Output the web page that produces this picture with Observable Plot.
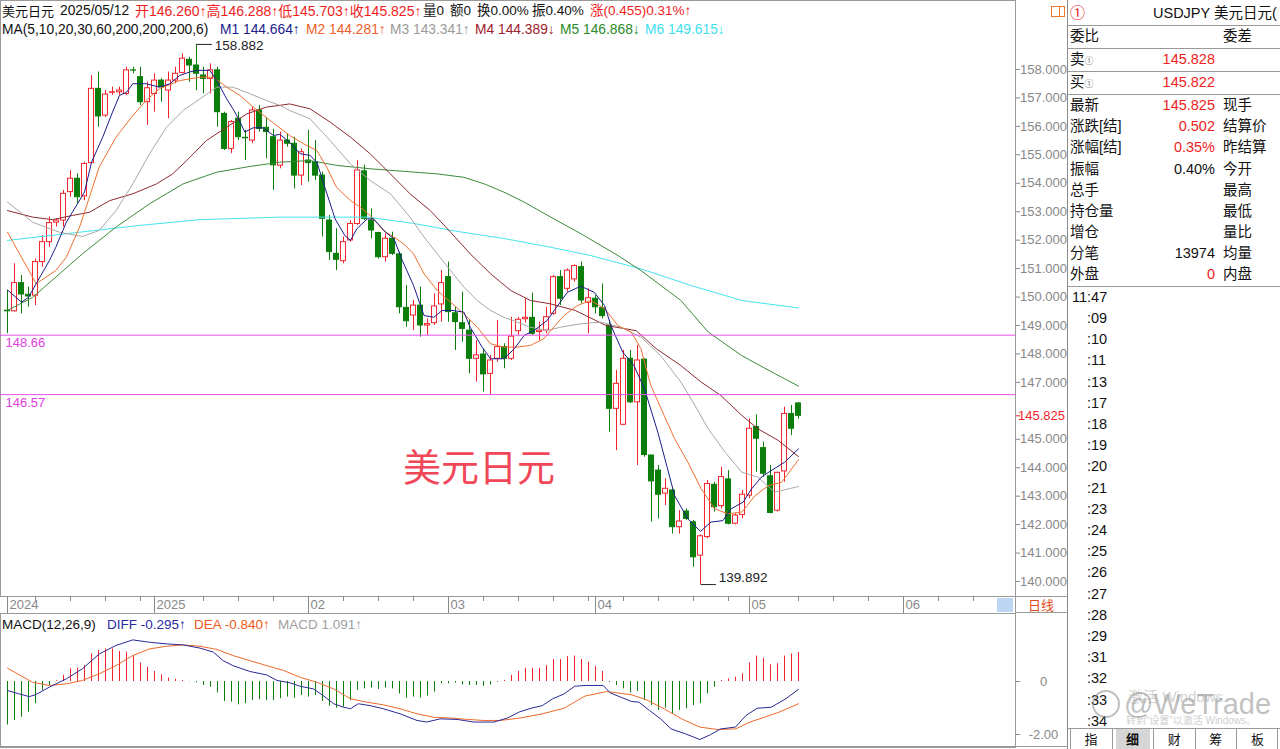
<!DOCTYPE html>
<html><head><meta charset="utf-8">
<script src="https://cdn.jsdelivr.net/npm/d3@7"></script>
<script src="https://cdn.jsdelivr.net/npm/@observablehq/plot@0.6"></script>
<style>
html,body{margin:0;padding:0;background:#fff;}
body{width:1280px;height:749px;position:relative;overflow:hidden;font-family:"Liberation Sans",Arial,"Noto Sans CJK SC",sans-serif;}
.t{position:absolute;white-space:nowrap;}
.ln{position:absolute;}
svg{display:block;}
</style></head><body>
<div id="main" style="position:absolute;left:0;top:0"></div>
<div id="xaxis" style="position:absolute;left:0;top:596px"></div>
<div id="macd" style="position:absolute;left:0;top:613px"></div>
<script>
// ---------- DATA ----------
const opens = [149.52,149.50,150.49,150.08,150.05,151.23,151.93,152.62,152.69,153.69,154.16,153.54,154.71,157.32,156.38,157.18,157.20,157.14,157.97,157.73,
156.85,157.14,157.61,157.26,157.61,157.88,158.34,158.14,157.79,157.67,157.97,156.44,155.21,156.27,155.60,155.50,156.56,155.95,155.62,154.62,
155.50,155.39,154.27,154.80,154.74,154.27,152.69,151.52,151.26,151.99,152.57,154.42,152.69,152.25,151.40,152.05,151.50,149.62,149.35,149.70,
149.00,149.08,149.74,150.70,149.43,149.08,148.82,147.83,147.98,147.30,147.83,148.24,147.83,148.80,149.22,149.27,148.77,148.82,149.41,150.70,
150.29,150.62,151.05,149.80,149.94,149.61,149.00,146.07,145.51,147.83,146.30,147.80,144.43,143.90,143.09,143.20,141.91,142.46,142.08,140.91,
141.56,143.40,142.65,143.59,142.03,142.34,143.02,145.43,144.69,143.70,142.49,143.87,145.89,146.260];
const highs = [150.23,151.17,150.76,150.35,151.34,152.16,152.81,152.75,153.75,154.45,154.33,154.74,157.79,157.91,157.26,157.38,157.38,158.08,158.08,158.08,
157.55,157.85,157.67,157.91,158.08,158.55,158.43,158.882,158.08,158.20,158.08,156.50,156.21,156.50,155.86,156.68,156.73,156.32,155.90,155.80,
155.74,155.62,155.21,155.86,155.50,154.39,152.87,152.40,152.11,152.69,154.80,154.63,153.10,152.28,152.22,152.28,151.58,150.41,149.88,150.35,
149.23,150.11,150.93,151.23,149.64,150.17,149.18,148.47,148.18,147.95,149.18,148.36,149.29,149.29,149.94,150.14,149.12,149.64,150.76,150.93,
150.99,151.13,151.23,150.29,150.05,150.46,149.18,147.42,148.12,148.12,148.30,147.83,144.43,144.08,143.61,143.26,142.49,142.55,142.14,141.64,
143.55,143.49,144.02,143.90,142.38,143.20,145.72,145.86,144.90,144.08,143.84,146.13,146.19,146.288];
const lows = [148.71,149.47,149.41,149.65,149.70,151.05,151.75,152.46,152.46,153.51,153.28,153.39,154.68,155.97,156.32,157.09,157.09,157.09,157.85,156.73,
156.03,156.50,156.85,156.27,157.50,157.85,157.55,157.26,157.14,157.14,155.97,155.15,155.04,155.50,154.80,155.39,155.80,154.86,153.75,154.51,
155.27,153.80,153.92,154.04,154.10,152.11,151.29,150.93,151.17,151.93,152.52,152.69,152.05,151.34,151.23,151.46,149.41,148.94,148.82,148.59,
148.65,149.00,149.12,149.12,148.12,148.41,147.30,147.01,146.66,146.54,147.71,147.48,147.77,148.65,149.08,148.65,148.47,148.71,149.35,149.70,
150.17,150.52,149.76,148.71,149.41,149.23,145.25,144.60,145.48,146.25,144.08,144.37,142.09,142.20,142.67,141.67,141.67,142.14,140.50,139.892,
141.50,142.44,142.55,141.99,141.99,142.20,142.91,143.84,143.67,142.38,142.44,143.49,145.13,145.703];
const closes = [149.50,150.49,150.09,150.02,151.23,151.93,152.60,152.69,153.63,154.16,153.51,154.68,157.32,156.35,157.12,157.20,157.26,157.97,157.96,156.85,
157.34,157.61,157.38,157.61,157.85,158.38,158.14,157.85,157.67,157.97,156.50,155.21,156.15,155.62,155.58,156.56,155.91,155.80,154.63,155.50,
155.39,154.27,155.09,154.71,154.27,152.75,151.58,151.31,151.93,152.57,154.45,152.75,152.34,151.40,152.05,151.52,149.64,149.15,149.70,149.00,
149.05,149.67,150.49,149.47,149.12,148.88,147.83,147.95,147.28,147.77,148.24,147.83,148.61,149.20,149.27,148.71,148.82,149.29,150.70,149.94,
150.93,151.09,149.88,149.96,149.64,149.33,146.07,146.95,147.83,146.30,147.77,144.45,143.52,143.05,143.26,141.91,142.11,142.20,140.85,141.59,
143.43,142.61,143.67,142.03,142.32,143.05,145.37,145.02,143.79,142.41,143.82,145.89,145.37,145.825];

// moving averages: [candle index, value]
const ma5 = [[1,150.25],[3,149.82],[4,149.99],[5.1,150.47],[7,151.29],[7.9,151.75],[9.4,152.63],[11,153.28],[12,153.69],[13,154.74],[14.6,155.62],[16,156.5],[17,157.09],[18,157.2],[18.9,157.5],[20.8,157.5],[22.7,157.38],[24.2,157.5],[25.6,157.79],[27,157.91],[28,157.97],[29.9,157.97],[30.9,157.61],[32.3,156.97],[33.2,156.62],[34,156.27],[34.9,155.8],[36.1,155.95],[37.5,155.95],[39,155.68],[39.9,155.72],[41.3,155.44],[42.8,155.04],[44.2,154.98],[45.2,154.74],[46.4,153.81],[47.8,152.75],[49.2,152.16],[50,151.99],[50.9,152.4],[52.4,152.75],[53.3,152.75],[55,152.28],[56.2,152.05],[57.4,151.29],[59,150.41],[60.5,149.35],[61.9,149.29],[63.1,149.53],[64.5,149.53],[66.2,149.47],[67.1,148.94],[68.8,148.24],[70,147.83],[71.9,147.83],[73.4,148.18],[74.8,148.65],[76.2,148.82],[78.1,149.18],[79.1,149.53],[81,150.17],[82.9,150.38],[84.8,150.17],[86.3,149.7],[87.2,149.0],[88.9,148.06],[90.5,147.59],[92,146.77],[93.9,145.25],[95.3,143.96],[96.3,143.02],[98.2,142.2],[100,141.76],[101.5,142.09],[103.2,142.14],[104.4,142.56],[106.1,142.79],[107.3,143.26],[108.7,143.67],[110.1,143.9],[112,144.19],[114,144.664]];
const ma10 = [[1,152.28],[5.1,150.47],[7.9,150.93],[9.4,151.4],[11.3,152.46],[12.7,153.51],[14.1,154.57],[16.5,155.62],[18.9,156.38],[20.8,156.91],[22.7,157.32],[25.6,157.61],[28.5,157.73],[30.4,157.73],[32.3,157.38],[34.2,157.09],[36.1,156.68],[38.5,156.21],[41.3,155.68],[43.3,155.39],[45.2,155.15],[46.6,154.57],[48,153.86],[50,153.39],[51.4,153.16],[52.8,152.87],[54.7,152.34],[56.2,152.11],[57.6,151.87],[59,151.52],[60.5,150.82],[62.4,150.23],[64.3,149.82],[66.2,149.41],[68.1,148.94],[70,148.36],[71.9,148.24],[73.8,148.24],[75.7,148.3],[77.6,148.53],[78.6,148.82],[80.5,149.35],[82.4,149.7],[84.3,149.88],[86.3,149.59],[88.2,149.0],[90.1,148.77],[91.5,148.18],[92.9,146.89],[94.8,145.84],[96.3,145.02],[98.2,144.19],[100.1,143.26],[102,142.56],[103.9,142.38],[105.9,142.44],[107.8,143.02],[109.7,143.37],[111.6,143.49],[114,144.281]];
const ma20 = [[1,153.34],[4.6,152.63],[8.4,152.28],[11.7,152.13],[14.1,152.34],[16.5,153.04],[18.9,153.98],[21.3,155.04],[23.7,155.97],[26.1,156.56],[28.5,156.97],[30.9,157.38],[33.2,157.38],[35.6,157.15],[38,156.91],[39.9,156.74],[41.3,156.56],[44.2,156.27],[47.1,155.5],[50,154.68],[52.8,154.1],[55.7,153.63],[58.5,152.81],[60.5,152.11],[62.4,151.52],[64.3,150.93],[66.2,150.35],[68.1,149.88],[70,149.53],[71.9,149.29],[73.8,149.12],[75.7,148.94],[78.1,148.82],[80,148.94],[82.9,149.06],[85.7,149.12],[88.6,148.94],[91.5,148.59],[94.3,147.94],[97.2,147.01],[99.2,146.19],[101.1,145.37],[103.5,144.55],[105.9,143.84],[108.2,143.67],[110.6,143.14],[114,143.341]];
const ma30 = [[1,153.04],[4.6,152.81],[7.4,152.72],[10.3,152.87],[12.7,152.98],[15.6,153.39],[18.9,153.63],[22.3,153.98],[24.6,154.33],[26.6,154.8],[29.4,155.5],[32.3,155.97],[35.2,156.44],[38,156.68],[39.9,156.74],[41.3,156.79],[44.2,156.62],[47.1,156.15],[50,155.62],[52.8,155.04],[55.7,154.33],[58.5,153.63],[61.4,153.04],[64.3,152.28],[67.1,151.52],[70,150.82],[72.9,150.23],[75.7,149.88],[78.6,149.76],[82.1,149.53],[86.5,149.0],[90.8,148.82],[93.7,148.18],[97.2,147.59],[100.1,147.01],[102.9,146.54],[105.9,145.84],[108.2,145.37],[111.1,144.96],[114,144.389]];
const ma60 = [[1,149.53],[4.6,149.99],[11.7,151.52],[16.5,152.46],[21.3,153.28],[26.1,153.98],[30.9,154.39],[35.6,154.59],[39.9,154.74],[44.2,154.8],[48,154.63],[52.8,154.51],[57.6,154.42],[62.4,154.33],[66.2,154.21],[69.1,153.98],[71.9,153.69],[74.8,153.34],[78.6,152.81],[82.9,152.23],[88.2,151.46],[91.5,150.93],[97.2,149.88],[101.1,148.77],[105.9,147.94],[110.6,147.31],[114,146.868]];
const ma200 = [[1,151.99],[11.3,152.28],[19.9,152.52],[28.5,152.72],[39.9,152.81],[52.4,152.81],[59,152.59],[65.2,152.31],[71.9,152.06],[78.6,151.75],[84.3,151.46],[91.5,150.99],[98.6,150.41],[105.9,149.88],[114,149.615]];

// MACD(12,26,9)
const macdHist = [-1.64,-1.47,-1.35,-1.16,-0.84,-0.34,-0.15,0.03,0.23,0.48,0.50,0.60,1.04,1.17,1.23,1.23,1.13,1.11,0.98,0.70,
0.54,0.38,0.25,0.13,0.08,0.04,-0.01,-0.05,-0.15,-0.21,-0.43,-0.75,-0.78,-0.88,-0.84,-0.72,-0.69,-0.72,-0.72,-0.65,
-0.59,-0.63,-0.53,-0.59,-0.53,-0.75,-0.93,-1.01,-0.97,-0.72,-0.34,-0.28,-0.25,-0.30,-0.25,-0.28,-0.47,-0.63,-0.59,-0.63,
-0.55,-0.40,-0.09,-0.09,-0.06,-0.13,-0.15,-0.15,-0.18,-0.13,-0.03,0.04,0.23,0.38,0.50,0.50,0.50,0.60,0.83,0.83,
0.94,0.96,0.83,0.73,0.57,0.38,-0.04,-0.15,-0.28,-0.43,-0.38,-0.72,-0.91,-1.09,-1.01,-1.22,-1.09,-1.03,-0.91,-0.84,
-0.47,-0.21,0.04,0.10,0.16,0.29,0.70,0.96,0.88,0.63,0.67,0.96,1.04,1.091];
const diffLine = [[1,-0.34],[2.7,-0.47],[4.1,-0.57],[5,-0.5],[7,-0.21],[9.4,0.1],[11.7,0.48],[14.1,1.04],[16.5,1.36],[18.9,1.57],[21.3,1.48],[23.7,1.42],[26.1,1.38],[28.5,1.26],[30.4,1.11],[31.8,0.79],[33.2,0.6],[35.6,0.38],[38,0.25],[39.5,0.04],[41.4,-0.05],[42.8,-0.18],[44.7,-0.28],[46.1,-0.53],[47.6,-0.84],[49,-0.97],[50,-1.03],[51.1,-0.84],[52.8,-0.91],[54.7,-1.03],[57.1,-1.22],[59.5,-1.47],[60.9,-1.53],[62.8,-1.41],[65.2,-1.43],[67.6,-1.53],[70.5,-1.53],[72.4,-1.38],[74.2,-1.14],[75.8,-1.01],[77.4,-0.91],[78.9,-0.65],[80.5,-0.47],[82,-0.18],[83.5,-0.15],[86.1,-0.15],[87.1,-0.43],[88.6,-0.59],[90.1,-0.75],[91.2,-0.78],[92.7,-1.09],[94.3,-1.41],[95.8,-1.79],[97.8,-1.97],[99.9,-2.19],[101.4,-2.01],[102.9,-1.79],[105,-1.72],[106.5,-1.28],[108.1,-1.01],[110.1,-0.97],[112.2,-0.65],[114,-0.295]];
const deaLine = [[1,0.5],[2.7,0.25],[4.6,-0.03],[7,-0.15],[9.4,-0.09],[11.7,0.04],[14.1,0.29],[16.5,0.6],[18.9,0.98],[21.3,1.23],[23.7,1.33],[26.1,1.38],[28.5,1.33],[30.9,1.21],[33.2,0.98],[35.6,0.79],[38,0.6],[40.4,0.42],[42.8,0.16],[45.2,-0.03],[47.6,-0.28],[50,-0.65],[52.3,-0.78],[54.7,-0.88],[57.1,-1.03],[59.5,-1.22],[61.9,-1.35],[64.3,-1.38],[66.7,-1.43],[69,-1.47],[71.4,-1.47],[74.2,-1.38],[77.4,-1.22],[80.5,-1.01],[83.5,-0.55],[86.6,-0.38],[88.1,-0.43],[90.1,-0.5],[92.2,-0.68],[94.8,-1.03],[97.3,-1.41],[99.9,-1.72],[102.4,-1.81],[105,-1.79],[107.1,-1.53],[109.1,-1.35],[111.2,-1.16],[114,-0.84]];

// axis ticks and labels
const yTicks = [140,141,142,143,144,145,147,148,149,150,151,152,153,154,155,156,157,158];
const macdTicks = [0,-2];
const levelValues = [148.66, 146.57];
const monthTickIdx = [1,22,44,64,85,107,129];
const monthLabels = ["2024","2025","02","03","04","05","06"];
const weekTickIdx = [5,10,15,20,29,34,39,49,54,59,69,74,79,84,89,94,99,104,114,119,124,134,139];

// header / info texts  [text, colour, left, font size]
const headerLine1 = [["美元日元","#111",2,13],["2025/05/12","#111",60,13.8],["开146.260↑高146.288↑低145.703↑收145.825↑","#f01c1c",135,14],["量0","#111",423,13.5],["额0","#111",450,13.5],["换0.00%","#111",477,13.5],["振0.40%","#111",532,13.5],["涨(0.455)0.31%↑","#f01c1c",590,13.5]];
const headerLine2 = [["MA(5,10,20,30,60,200,200,200,6)","#111",2,13.8],["M1 144.664↑","#1c1c8c",220,13.8],["M2 144.281↑","#f0602a",306,13.8],["M3 143.341↑","#9a9a9a",390,13.8],["M4 144.389↓","#a0202a",475,13.8],["M5 146.868↓","#2a8a2a",560,13.8],["M6 149.615↓","#3ee0ee",645,13.8]];
const macdLabels = [["MACD(12,26,9)","#111",2],["DIFF -0.295↑","#2a2aa0",107],["DEA -0.840↑","#f05a20",194],["MACD 1.091↑","#a0a0a0",278]];
const quoteRows = [["最新","145.825","现手","#f01c1c"],["涨跌[结]","0.502","结算价","#f01c1c"],["涨幅[结]","0.35%","昨结算","#f01c1c"],["振幅","0.40%","今开","#111"],["总手","","最高","#111"],["持仓量","","最低","#111"],["增仓","","量比","#111"],["分笔","13974","均量","#111"],["外盘","0","内盘","#f01c1c"]];
const tickTimes = ["11:47",":09",":10",":11",":13",":17",":18",":19",":20",":21",":23",":24",":25",":26",":27",":28",":29",":31",":32",":33",":34"];
const tabs = ["指","细","财","筹","板"];

// ---------- CHART ----------
const RED = "#f2232b", GREEN = "#0a7d0a", AX = "#888";
const FONT = '"Liberation Sans",Arial,"Noto Sans CJK SC",sans-serif';
const candles = opens.map((o,k)=>({i:k+1, open:o, high:highs[k], low:lows[k], close:closes[k]}));
const up = d => d.close >= d.open;
const xScale = {type:"linear", domain:[1,114], range:[7,798], axis:null};
const hiIdx = d3.maxIndex(highs), loIdx = d3.minIndex(lows);
const hiPt = [{i:hiIdx+1, v:highs[hiIdx]}], loPt = [{i:loIdx+1, v:lows[loIdx]}];
const lastPrice = closes[closes.length-1];
const maStyles = [[ma200,"#44e4ee"],[ma60,"#3c8a3c"],[ma30,"#8e2a30"],[ma20,"#a8a8a8"],[ma10,"#ee7030"],[ma5,"#1c1c8c"]];
const baseStyle = {fontFamily:FONT, fontSize:"13px", background:"transparent", overflow:"visible"};

const main = Plot.plot({
  width:1068, height:596, marginTop:0, marginLeft:0, marginBottom:0, marginRight:53,
  x: xScale,
  y: {domain:[140,158], range:[581,69], axis:null},
  style: baseStyle,
  marks: [
    Plot.frame({stroke:"#9a9a9a"}),
    Plot.ruleX(candles, {x:"i", y1:"low", y2:"high", stroke:d=>up(d)?RED:GREEN}),
    Plot.rect(candles, {x1:d=>d.i-0.36, x2:d=>d.i+0.36, y1:"open", y2:"close", fill:d=>up(d)?"#fff":GREEN, stroke:d=>up(d)?RED:GREEN}),
    ...maStyles.map(([arr,c]) => Plot.line(arr, {x:d=>d[0], y:d=>d[1], stroke:c, strokeWidth:1})),
    Plot.ruleY(levelValues, {stroke:"#e650e6", strokeWidth:1}),
    Plot.text(levelValues, {y:d=>d, text:d=>d.toFixed(2), frameAnchor:"left", textAnchor:"start", dx:5, dy:8, fill:"#e040e0", fontSize:13}),
    Plot.link(hiPt, {x1:"i", x2:d=>d.i+2.2, y1:"v", y2:"v", stroke:"#222"}),
    Plot.text(hiPt, {x:d=>d.i+2.6, y:"v", text:d=>d.v.toFixed(3), textAnchor:"start", dy:1, fill:"#222", fontSize:13.5}),
    Plot.link(loPt, {x1:"i", x2:d=>d.i+2.2, y1:"v", y2:"v", stroke:"#222"}),
    Plot.text(loPt, {x:d=>d.i+2.6, y:"v", text:d=>d.v.toFixed(3), textAnchor:"start", dy:-7, fill:"#222", fontSize:13.5}),
    Plot.axisY({anchor:"right", ticks:yTicks, tickFormat:d=>d.toFixed(3), tickSize:4, tickPadding:24, textAnchor:"middle", fill:AX, stroke:AX, label:null, fontSize:13}),
    Plot.axisY({anchor:"right", ticks:[lastPrice], tickFormat:d=>d.toFixed(3), tickSize:4, tickPadding:22, textAnchor:"middle", fill:RED, stroke:RED, label:null, fontSize:13})
  ]
});
document.getElementById("main").appendChild(main);

const xaxis = Plot.plot({
  width:1015, height:17, margin:0,
  x: xScale,
  style: baseStyle,
  marks: [
    Plot.ruleX(weekTickIdx, {x:d=>d, insetBottom:12, stroke:AX}),
    Plot.ruleX(monthTickIdx, {x:d=>d, stroke:AX}),
    Plot.text(monthTickIdx, {x:d=>d, text:(d,k)=>monthLabels[k], textAnchor:"start", dx:2, fill:AX, fontSize:13})
  ]
});
document.getElementById("xaxis").appendChild(xaxis);

const macdRows = macdHist.map((m,k)=>({i:k+1, m}));
const macd = Plot.plot({
  width:1068, height:134, marginTop:0, marginLeft:0, marginBottom:0, marginRight:53,
  x: xScale,
  y: {domain:[-2,0], range:[121,68], axis:null},
  style: baseStyle,
  marks: [
    Plot.frame({stroke:"#9a9a9a"}),
    Plot.ruleX(macdRows, {x:"i", y1:0, y2:"m", stroke:d=>d.m>=0?RED:GREEN}),
    Plot.line(deaLine, {x:d=>d[0], y:d=>d[1], stroke:"#ee6a2a", strokeWidth:1}),
    Plot.line(diffLine, {x:d=>d[0], y:d=>d[1], stroke:"#2a2a96", strokeWidth:1}),
    Plot.axisY({anchor:"right", ticks:macdTicks, tickFormat:d=>d===0?"0":d.toFixed(2), tickSize:4, tickPadding:24, textAnchor:"middle", fill:AX, stroke:AX, label:null, fontSize:13})
  ]
});
document.getElementById("macd").appendChild(macd);

// ---------- HTML overlays ----------
function T(str, x, cy, o={}) {
  const el = document.createElement("div"); el.className = "t"; el.textContent = str;
  const fs = o.size || 14; el.style.fontSize = fs+"px"; el.style.lineHeight = (fs+4)+"px";
  el.style.top = (cy-(fs+4)/2)+"px";
  if (o.anchor === "end") el.style.right = (1280-x)+"px";
  else if (o.anchor === "middle") { el.style.left = x+"px"; el.style.transform = "translateX(-50%)"; }
  else el.style.left = x+"px";
  el.style.color = o.color || "#111";
  if (o.weight) el.style.fontWeight = o.weight;
  document.body.appendChild(el); return el;
}
function L(x, y, w, h, c) {
  const el = document.createElement("div"); el.className = "ln";
  Object.assign(el.style, {left:x+"px", top:y+"px", width:w+"px", height:h+"px", background:c||"#9a9a9a"});
  document.body.appendChild(el); return el;
}
headerLine1.forEach(([s,c,x,fs]) => T(s, x, 11, {size:fs, color:c}));
headerLine2.forEach(([s,c,x,fs]) => T(s, x, 30, {size:fs, color:c}));
macdLabels.forEach(([s,c,x]) => T(s, x, 625, {size:13.5, color:c}));
T("美元日元", 403, 468, {size:38, color:"#f04858"});

// icon top right of chart
const ic = document.createElement("div");
Object.assign(ic.style, {position:"absolute", left:"1051px", top:"6px", width:"12px", height:"9px", border:"1px solid #e8782a"});
const ic2 = document.createElement("div");
Object.assign(ic2.style, {position:"absolute", left:"7px", top:"0px", width:"1px", height:"9px", background:"#e8782a"});
ic.appendChild(ic2); document.body.appendChild(ic);

// x-axis strip extras
L(1015, 596, 1, 17); L(1015, 596, 53, 1); L(1015, 612, 53, 1);
const sq = document.createElement("div");
Object.assign(sq.style, {position:"absolute", left:"997px", top:"598px", width:"16px", height:"14px", background:"#bcd6f2"});
document.body.appendChild(sq);
T("日线", 1041, 605, {size:13, color:"#e04a18", anchor:"middle"});

// right panel
L(1067, 0, 1, 749, "#8a8a8a");
[25, 48, 71, 94, 286].forEach(y => L(1068, y, 212, 1, "#9a9a9a"));
L(0, 746, 1068, 1, "#9a9a9a");
T("①", 1070, 12, {size:15, color:"#e8101a"});
T("USDJPY 美元日元(", 1153, 13, {size:14.5, color:"#111"});
T("委比", 1070, 36, {size:14.5}); T("委差", 1223, 36, {size:14.5});
const sell = T("卖", 1070, 59, {size:14.5}); const s1 = document.createElement("span"); s1.textContent="①"; s1.style.fontSize="9px"; s1.style.color="#777"; sell.appendChild(s1);
const buy = T("买", 1070, 82, {size:14.5}); const b1 = document.createElement("span"); b1.textContent="①"; b1.style.fontSize="9px"; b1.style.color="#777"; buy.appendChild(b1);
T("145.828", 1215, 59, {size:14.5, color:"#f01c1c", anchor:"end"});
T("145.822", 1215, 82, {size:14.5, color:"#f01c1c", anchor:"end"});
quoteRows.forEach(([a,v,b,c],k) => {
  const cy = 105.5 + 21.1*k;
  T(a, 1070, cy, {size:14.5});
  if (v) T(v, 1215, cy, {size:14.5, color:c, anchor:"end"});
  T(b, 1223, cy, {size:14.5});
});
tickTimes.forEach((s,k) => {
  if (k === 0) T(s, 1072, 297, {size:14.5});
  else T(s, 1087, 297 + 21.2*k, {size:14.5});
});
// tabs
L(1068, 728, 212, 1, "#9a9a9a");
tabs.forEach((s,k) => {
  const x0 = 1070 + 41.6*k;
  if (k === 1) { const bg = document.createElement("div"); Object.assign(bg.style,{position:"absolute",left:(x0+4)+"px",top:"729px",width:"34px",height:"20px",background:"#d6d6d6"}); document.body.appendChild(bg); }
  L(x0, 729, 1, 20, "#9a9a9a");
  T(s, x0+21, 739, {size:13, anchor:"middle", weight:k===1?"bold":"normal"});
});
L(1277, 729, 1, 20, "#9a9a9a");
// watermark overlays
const logo = document.createElement("div");
Object.assign(logo.style,{position:"absolute",left:"1092px",top:"690px",width:"24px",height:"24px",borderRadius:"50%",border:"2px solid rgba(140,140,140,0.55)"});
document.body.appendChild(logo);
T("激活 Windows", 1128, 696, {size:15, color:"rgba(170,170,170,0.55)"});
T("@WeTrade", 1124, 704, {size:29, color:"rgba(140,140,140,0.55)"});
T("转到“设置”以激活 Windows。", 1126, 721, {size:10, color:"rgba(170,170,170,0.6)"});
</script>
</body></html>
